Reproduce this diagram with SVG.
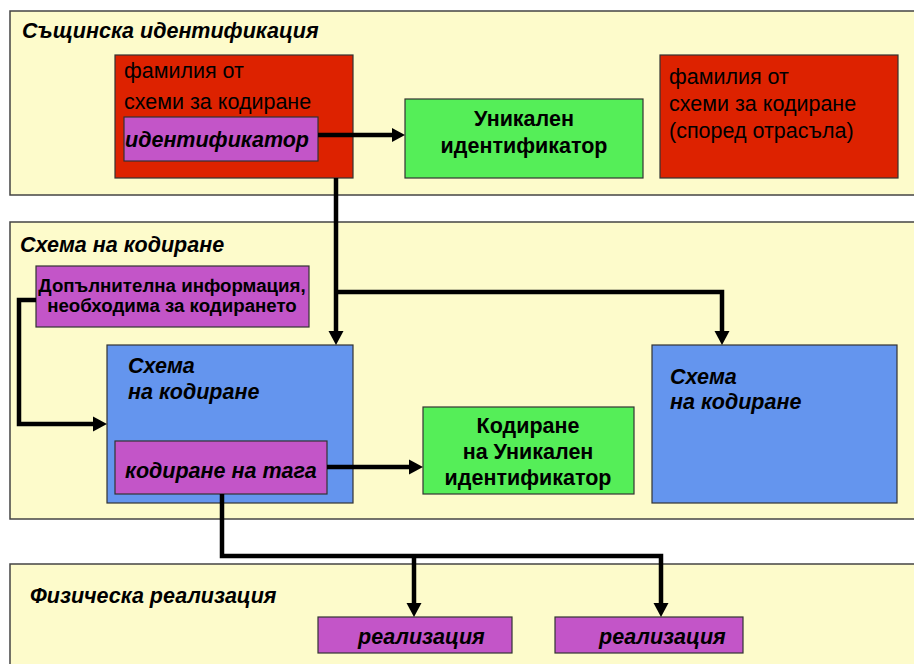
<svg xmlns="http://www.w3.org/2000/svg" width="914" height="664" viewBox="0 0 914 664">
<style>
.panel{fill:#FDFBCB;stroke:#444;stroke-width:1.5}
.red{fill:#DD2200;stroke:#333;stroke-width:1.2}
.green{fill:#55EE58;stroke:#333;stroke-width:1.2}
.purple{fill:#C355C8;stroke:#333;stroke-width:1.2}
.blue{fill:#6495EE;stroke:#333;stroke-width:1.2}
text{font-family:"Liberation Sans",Arial,sans-serif;fill:#000}
.title{font-size:21.5px;font-weight:bold;font-style:italic}
.reg{font-size:21.5px}
.bi{font-size:21.5px;font-weight:bold;font-style:italic}
.b{font-size:21.5px;font-weight:bold}
.conn{fill:none;stroke:#000;stroke-width:4.5}
.head{fill:#000}
</style>
<rect width="914" height="664" fill="#fff"/>
<g id="panel-identification">
<rect class="panel" x="10" y="11" width="910" height="184"/>
<text class="title" x="22" y="38">Същинска идентификация</text>
</g>
<g id="panel-coding">
<rect class="panel" x="10" y="222" width="910" height="297"/>
<text class="title" x="20" y="252">Схема на кодиране</text>
</g>
<g id="panel-physical">
<rect class="panel" x="10" y="564" width="910" height="110"/>
<text class="title" x="30" y="603">Физическа реализация</text>
</g>
<g id="family1">
<rect class="red" x="115" y="55" width="238" height="123"/>
<text class="reg" x="124" y="78">фамилия от</text>
<text class="reg" x="124" y="109">схеми за кодиране</text>
</g>
<g id="identifier">
<rect class="purple" x="124" y="117" width="194" height="44"/>
<text class="bi" x="125" y="147">идентификатор</text>
</g>
<g id="unique-id">
<rect class="green" x="405" y="99" width="238" height="79"/>
<text class="b" x="524" y="126" text-anchor="middle">Уникален</text>
<text class="b" x="524" y="153" text-anchor="middle">идентификатор</text>
</g>
<g id="family2">
<rect class="red" x="660" y="55" width="238" height="123"/>
<text class="reg" x="669" y="84">фамилия от</text>
<text class="reg" x="669" y="111">схеми за кодиране</text>
<text class="reg" x="669" y="138">(според отрасъла)</text>
</g>
<g id="extra-info">
<rect class="purple" x="36" y="266" width="273" height="61"/>
<text class="b" x="172" y="292" text-anchor="middle" style="font-size:18.7px">Допълнителна информация,</text>
<text class="b" x="172" y="312" text-anchor="middle" style="font-size:18.7px">необходима за кодирането</text>
</g>
<g id="scheme1">
<rect class="blue" x="107" y="345" width="246" height="158"/>
<text class="bi" x="128" y="373">Схема</text>
<text class="bi" x="128" y="399">на кодиране</text>
</g>
<g id="tag-coding">
<rect class="purple" x="115" y="441" width="212" height="53"/>
<text class="bi" x="125" y="478">кодиране на тага</text>
</g>
<g id="coded-id">
<rect class="green" x="423" y="407" width="211" height="87"/>
<text class="b" x="528" y="433" text-anchor="middle">Кодиране</text>
<text class="b" x="528" y="459" text-anchor="middle">на Уникален</text>
<text class="b" x="528" y="485" text-anchor="middle">идентификатор</text>
</g>
<g id="scheme2">
<rect class="blue" x="652" y="345" width="245" height="158"/>
<text class="bi" x="670" y="384">Схема</text>
<text class="bi" x="670" y="409">на кодиране</text>
</g>
<g id="impl1">
<rect class="purple" x="318" y="617" width="194" height="36"/>
<text class="bi" x="358" y="644">реализация</text>
</g>
<g id="impl2">
<rect class="purple" x="555" y="617" width="188" height="36"/>
<text class="bi" x="599" y="644">реализация</text>
</g>
<g id="connectors">
<path class="conn" d="M318,135 H393"/>
<path class="head" d="M405,135 L392,128 L392,142 Z"/>
<path class="conn" d="M336,178 V332"/>
<path class="head" d="M336,345 L328.5,331 L343.5,331 Z"/>
<path class="conn" d="M336,292 H722 V332"/>
<path class="head" d="M722,345 L714.5,331 L729.5,331 Z"/>
<path class="conn" d="M36,300 H19 V424 H95"/>
<path class="head" d="M107,424 L93,416.5 L93,431.5 Z"/>
<path class="conn" d="M327,467 H410"/>
<path class="head" d="M423,467 L409,459.5 L409,474.5 Z"/>
<path class="conn" d="M222,494 V556 H661 V604"/>
<path class="conn" d="M414,556 V604"/>
<path class="head" d="M414,617 L406.5,603 L421.5,603 Z"/>
<path class="head" d="M661,617 L653.5,603 L668.5,603 Z"/>
</g>
</svg>
